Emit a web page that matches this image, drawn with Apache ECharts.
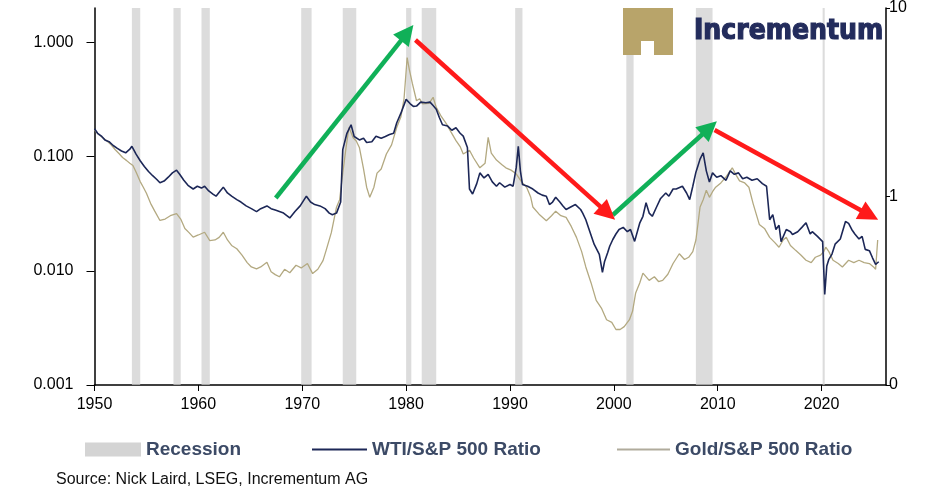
<!DOCTYPE html>
<html>
<head>
<meta charset="utf-8">
<script src="https://cdn.jsdelivr.net/npm/echarts@6/dist/echarts.min.js"></script>
<style>
  html, body { margin: 0; padding: 0; background: #fff; }
  #chart { width: 931px; height: 495px; }
</style>
</head>
<body>
<div id="chart"></div>
<script>
// series names / legend entries
const seriesNames = ["Recession", "WTI/S&P 500 Ratio", "Gold/S&P 500 Ratio"];

// US recessions (start, end) in decimal years
const recessions = [
  [1953.6, 1954.4], [1957.6, 1958.3], [1960.3, 1961.1], [1969.9, 1970.9],
  [1973.9, 1975.2], [1980.0, 1980.5], [1981.5, 1982.9], [1990.5, 1991.2],
  [2001.2, 2001.9], [2007.9, 2009.5], [2020.1, 2020.3]
];

// WTI / S&P 500 ratio (left axis)
const wtiRatio = [
  [1950.0, 0.175], [1950.3, 0.16], [1950.7, 0.15], [1951.0, 0.14], [1951.4, 0.135], [1951.8, 0.125],
  [1952.2, 0.118], [1952.6, 0.112], [1953.0, 0.108], [1953.4, 0.116], [1953.6, 0.123], [1954.0, 0.105],
  [1954.4, 0.092], [1954.8, 0.082], [1955.2, 0.074], [1955.6, 0.068], [1956.0, 0.063], [1956.3, 0.059],
  [1956.7, 0.061], [1957.1, 0.066], [1957.5, 0.072], [1957.9, 0.076], [1958.2, 0.070], [1958.6, 0.062],
  [1959.0, 0.056], [1959.5, 0.052], [1959.9, 0.055], [1960.3, 0.053], [1960.6, 0.055], [1961.0, 0.050],
  [1961.4, 0.047], [1961.7, 0.045], [1962.1, 0.050], [1962.4, 0.054], [1962.8, 0.048], [1963.2, 0.045],
  [1963.7, 0.042], [1964.1, 0.040], [1964.6, 0.037], [1965.1, 0.035], [1965.6, 0.033], [1966.0, 0.035],
  [1966.6, 0.037], [1967.0, 0.035], [1967.4, 0.034], [1967.8, 0.033], [1968.2, 0.032], [1968.8, 0.029],
  [1969.3, 0.033], [1969.8, 0.037], [1970.4, 0.045], [1970.8, 0.040], [1971.2, 0.038], [1971.7, 0.037],
  [1972.2, 0.035], [1972.6, 0.032], [1972.9, 0.031], [1973.3, 0.032], [1973.7, 0.040], [1973.9, 0.115],
  [1974.3, 0.160], [1974.7, 0.190], [1975.0, 0.150], [1975.5, 0.140], [1975.9, 0.145], [1976.2, 0.133],
  [1976.7, 0.135], [1977.1, 0.151], [1977.6, 0.145], [1978.0, 0.150], [1978.4, 0.156], [1978.8, 0.160],
  [1979.1, 0.198], [1979.5, 0.240], [1980.0, 0.317], [1980.4, 0.290], [1980.7, 0.275], [1981.0, 0.277],
  [1981.4, 0.300], [1981.9, 0.296], [1982.3, 0.300], [1982.6, 0.280], [1982.9, 0.260], [1983.2, 0.220],
  [1983.5, 0.190], [1984.0, 0.185], [1984.4, 0.170], [1984.8, 0.179], [1985.2, 0.160], [1985.5, 0.151],
  [1985.9, 0.120], [1986.1, 0.052], [1986.4, 0.047], [1986.8, 0.058], [1987.1, 0.072], [1987.5, 0.065],
  [1987.9, 0.070], [1988.3, 0.060], [1988.7, 0.055], [1989.0, 0.059], [1989.5, 0.054], [1990.0, 0.057],
  [1990.3, 0.055], [1990.6, 0.080], [1990.8, 0.123], [1991.0, 0.075], [1991.2, 0.057], [1991.7, 0.055],
  [1992.2, 0.052], [1992.7, 0.048], [1993.1, 0.046], [1993.5, 0.045], [1993.8, 0.038], [1994.1, 0.040],
  [1994.4, 0.044], [1994.8, 0.040], [1995.1, 0.037], [1995.4, 0.0344], [1995.8, 0.036], [1996.3, 0.038],
  [1996.8, 0.0344], [1997.0, 0.032], [1997.3, 0.028], [1997.6, 0.0232], [1998.1, 0.0171], [1998.6, 0.0139],
  [1998.9, 0.0097], [1999.1, 0.012], [1999.4, 0.0144], [1999.6, 0.0164], [1999.9, 0.0188], [2000.2, 0.021],
  [2000.5, 0.023], [2000.9, 0.024], [2001.3, 0.022], [2001.6, 0.023], [2002.0, 0.0181], [2002.5, 0.0263],
  [2002.8, 0.030], [2003.1, 0.0395], [2003.4, 0.032], [2003.7, 0.030], [2004.1, 0.036], [2004.5, 0.043],
  [2005.0, 0.048], [2005.3, 0.045], [2005.7, 0.052], [2006.0, 0.052], [2006.6, 0.055], [2007.0, 0.048],
  [2007.3, 0.042], [2007.6, 0.055], [2007.9, 0.073], [2008.3, 0.095], [2008.6, 0.108], [2008.9, 0.075],
  [2009.2, 0.060], [2009.5, 0.072], [2009.9, 0.066], [2010.3, 0.068], [2010.8, 0.062], [2011.2, 0.075],
  [2011.6, 0.070], [2012.0, 0.072], [2012.4, 0.064], [2012.8, 0.066], [2013.3, 0.062], [2013.8, 0.064],
  [2014.3, 0.058], [2014.7, 0.055], [2015.0, 0.028], [2015.3, 0.031], [2015.6, 0.023], [2015.9, 0.025],
  [2016.1, 0.018], [2016.6, 0.023], [2017.0, 0.022], [2017.2, 0.0208], [2017.7, 0.022], [2018.1, 0.024],
  [2018.5, 0.0263], [2018.9, 0.021], [2019.1, 0.022], [2019.6, 0.020], [2020.1, 0.018], [2020.3, 0.0062],
  [2020.5, 0.011], [2020.7, 0.0126], [2021.0, 0.014], [2021.3, 0.0171], [2021.8, 0.019], [2022.3, 0.027],
  [2022.6, 0.026], [2022.9, 0.023], [2023.2, 0.021], [2023.6, 0.019], [2023.9, 0.020], [2024.2, 0.0154],
  [2024.6, 0.015], [2024.9, 0.013], [2025.2, 0.0114], [2025.5, 0.012]
];

// Gold / S&P 500 ratio (right axis)
const goldRatio = [
  [1950.0, 2.25], [1950.4, 2.13], [1950.8, 2.05], [1951.2, 1.97], [1951.6, 1.88], [1952.0, 1.77],
  [1952.4, 1.68], [1952.7, 1.61], [1953.1, 1.55], [1953.4, 1.50], [1953.7, 1.46], [1954.0, 1.35],
  [1954.4, 1.20], [1954.7, 1.12], [1955.0, 1.04], [1955.4, 0.92], [1955.8, 0.836], [1956.3, 0.746],
  [1956.8, 0.759], [1957.3, 0.791], [1957.9, 0.812], [1958.3, 0.759], [1958.7, 0.677], [1959.1, 0.643],
  [1959.5, 0.609], [1960.0, 0.625], [1960.6, 0.646], [1961.1, 0.584], [1961.6, 0.588], [1962.0, 0.607],
  [1962.4, 0.646], [1962.8, 0.588], [1963.2, 0.550], [1963.7, 0.528], [1964.2, 0.489], [1964.7, 0.446],
  [1965.1, 0.423], [1965.6, 0.413], [1966.0, 0.423], [1966.6, 0.448], [1967.0, 0.399], [1967.4, 0.385],
  [1967.8, 0.375], [1968.3, 0.411], [1968.8, 0.394], [1969.4, 0.432], [1969.9, 0.418], [1970.5, 0.441],
  [1971.0, 0.390], [1971.5, 0.411], [1972.0, 0.457], [1972.3, 0.518], [1972.8, 0.643], [1973.3, 0.877],
  [1973.6, 0.961], [1973.9, 1.33], [1974.2, 1.79], [1974.5, 2.33], [1974.9, 2.05], [1975.2, 1.97],
  [1975.5, 1.82], [1975.9, 1.40], [1976.2, 1.12], [1976.5, 0.99], [1976.9, 1.12], [1977.2, 1.33],
  [1977.6, 1.40], [1978.1, 1.68], [1978.6, 1.88], [1979.1, 2.33], [1979.5, 2.65], [1979.8, 3.30],
  [1980.1, 5.46], [1980.3, 4.74], [1980.6, 3.98], [1981.0, 3.22], [1981.3, 3.30], [1981.6, 3.10],
  [1982.2, 3.12], [1982.6, 3.36], [1982.9, 2.97], [1983.4, 2.65], [1983.9, 2.42], [1984.3, 2.21],
  [1984.8, 1.98], [1985.2, 1.84], [1985.5, 1.68], [1986.1, 1.76], [1986.5, 1.60], [1987.1, 1.42],
  [1987.6, 1.50], [1987.9, 2.06], [1988.2, 1.70], [1988.7, 1.56], [1989.2, 1.48], [1989.6, 1.42],
  [1990.1, 1.38], [1990.6, 1.32], [1991.1, 1.20], [1991.6, 1.12], [1992.0, 0.99], [1992.2, 0.880],
  [1992.8, 0.806], [1993.5, 0.744], [1994.0, 0.791], [1994.4, 0.836], [1994.9, 0.791], [1995.4, 0.775],
  [1995.9, 0.694], [1996.4, 0.607], [1996.9, 0.510], [1997.3, 0.423], [1997.8, 0.349], [1998.3, 0.281],
  [1998.8, 0.256], [1999.3, 0.222], [1999.8, 0.215], [2000.2, 0.197], [2000.6, 0.197], [2001.0, 0.204],
  [2001.5, 0.222], [2001.8, 0.246], [2002.1, 0.308], [2002.5, 0.349], [2002.8, 0.392], [2003.4, 0.359],
  [2003.9, 0.375], [2004.3, 0.354], [2004.7, 0.359], [2005.2, 0.387], [2005.7, 0.441], [2006.3, 0.497],
  [2006.8, 0.463], [2007.2, 0.476], [2007.6, 0.510], [2007.9, 0.588], [2008.3, 0.880], [2008.6, 0.961],
  [2008.9, 1.08], [2009.2, 0.99], [2009.5, 1.06], [2009.8, 1.12], [2010.3, 1.18], [2010.8, 1.27],
  [2011.4, 1.42], [2011.8, 1.29], [2012.1, 1.21], [2012.6, 1.18], [2013.0, 1.12], [2013.4, 0.92],
  [2013.8, 0.775], [2014.0, 0.711], [2014.5, 0.677], [2015.0, 0.607], [2015.5, 0.569], [2015.9, 0.538],
  [2016.3, 0.588], [2016.6, 0.607], [2017.0, 0.550], [2017.5, 0.518], [2018.0, 0.489], [2018.5, 0.459],
  [2019.0, 0.446], [2019.4, 0.476], [2019.9, 0.489], [2020.2, 0.510], [2020.4, 0.538], [2020.7, 0.510],
  [2021.1, 0.459], [2021.6, 0.441], [2022.0, 0.423], [2022.6, 0.459], [2023.1, 0.446], [2023.6, 0.459],
  [2024.1, 0.446], [2024.6, 0.441], [2025.0, 0.423], [2025.2, 0.411], [2025.4, 0.588]
];

// trend arrows drawn on the chart, [start, tip] in (year, left-axis value)
const upTrends = [
  [[1967.45, 0.0434], [1980.1, 1.21]],
  [[1999.9, 0.0308], [2009.2, 0.178]]
];
const downTrends = [
  [[1980.9, 1.05], [1999.4, 0.032]],
  [[2009.7, 0.171], [2024.6, 0.0308]]
];

const sourceText = "Source: Nick Laird, LSEG, Incrementum AG";
const logoText = "Incrementum";

let chart = echarts.init(document.getElementById("chart"), null, { renderer: "canvas" });

const font = "'Liberation Sans', Arial, sans-serif";
const legendText = { fontSize: 19, fontWeight: "bold", color: "#3c4a66", fontFamily: font };

function arrowLines(list, color) {
  return list.map(a => [
    { coord: a[0], lineStyle: { color: color, width: 4.5, type: "solid" } },
    { coord: a[1] }
  ]);
}

chart.setOption({
  animation: false,
  backgroundColor: "#ffffff",
  textStyle: { fontFamily: font },
  grid: { left: 94.5, right: 45, top: 7, bottom: 110, containLabel: false },
  xAxis: {
    type: "value",
    min: 1950,
    max: 2026.2,
    interval: 10,
    splitLine: { show: false },
    axisLine: { lineStyle: { color: "#000", width: 1.5 } },
    axisTick: { length: 6, lineStyle: { color: "#000" } },
    axisLabel: {
      fontSize: 16, color: "#000", margin: 12, showMaxLabel: false,
      formatter: v => String(Math.round(v))
    }
  },
  yAxis: [
    {
      type: "log",
      min: 0.001,
      max: 2,
      splitLine: { show: false },
      axisLine: { show: true, lineStyle: { color: "#000", width: 1.5 } },
      axisTick: { show: true, length: 8, lineStyle: { color: "#000" } },
      axisLabel: {
        fontSize: 16, color: "#000", margin: 21, showMaxLabel: false,
        formatter: v => v.toFixed(3)
      }
    },
    {
      type: "log",
      min: 0.1,
      max: 10,
      position: "right",
      splitLine: { show: false },
      axisLine: { show: true, lineStyle: { color: "#000", width: 1.5 } },
      axisTick: { show: true, length: 4, lineStyle: { color: "#000" } },
      axisLabel: {
        fontSize: 16, color: "#000", margin: 3,
        formatter: v => (v < 1 ? "0" : String(Math.round(v)))
      }
    }
  ],
  legend: [
    {
      data: [{ name: seriesNames[0], icon: "rect", itemStyle: { color: "#d4d4d4" } }],
      left: 80, top: 435, itemWidth: 56, itemHeight: 14, textStyle: legendText
    },
    {
      data: [{ name: seriesNames[1], icon: "rect", itemStyle: { color: "#1c2757" } }],
      left: 307, top: 435, itemWidth: 55, itemHeight: 2, textStyle: legendText
    },
    {
      data: [{ name: seriesNames[2], icon: "rect", itemStyle: { color: "#b0ab9c" } }],
      left: 612, top: 435, itemWidth: 53, itemHeight: 2, textStyle: legendText
    }
  ],
  graphic: [
    {
      type: "text", left: 56, top: 472, z: 10,
      style: { text: sourceText, fontSize: 16, fill: "#111", fontFamily: font }
    },
    { type: "rect", z: 10, shape: { x: 623, y: 8, width: 50, height: 47 }, style: { fill: "#b8a46a" } },
    { type: "rect", z: 10, shape: { x: 641, y: 41, width: 13, height: 14 }, style: { fill: "#ffffff" } },
    {
      type: "text", x: 694, y: 32, z: 10,
      style: {
        text: logoText, fill: "#232c5c", stroke: "#232c5c", lineWidth: 1.2,
        fontSize: 28, fontWeight: "bold",
        fontFamily: "'DejaVu Sans Condensed', 'DejaVu Sans', sans-serif",
        verticalAlign: "middle"
      }
    }
  ],
  series: [
    {
      name: seriesNames[0],
      type: "line",
      data: [],
      z: 1,
      markArea: {
        silent: true,
        itemStyle: { color: "rgba(205,205,205,0.7)" },
        data: recessions.map(r => [{ xAxis: r[0] }, { xAxis: r[1] }])
      }
    },
    {
      name: seriesNames[2],
      type: "line",
      yAxisIndex: 1,
      data: goldRatio,
      symbol: "none",
      color: "#b3a981",
      lineStyle: { color: "#b3a981", width: 1.3 },
      z: 2
    },
    {
      name: seriesNames[1],
      type: "line",
      yAxisIndex: 0,
      data: wtiRatio,
      symbol: "none",
      color: "#1c2757",
      lineStyle: { color: "#1c2757", width: 1.6 },
      z: 3
    },
    {
      name: "trend",
      type: "line",
      data: [],
      z: 5,
      markLine: {
        silent: true,
        symbol: ["none", "triangle"],
        symbolSize: [20, 20],
        label: { show: false },
        data: arrowLines(upTrends, "#10b058").concat(arrowLines(downTrends, "#ff1a1a"))
      }
    }
  ]
});
</script>
</body>
</html>
